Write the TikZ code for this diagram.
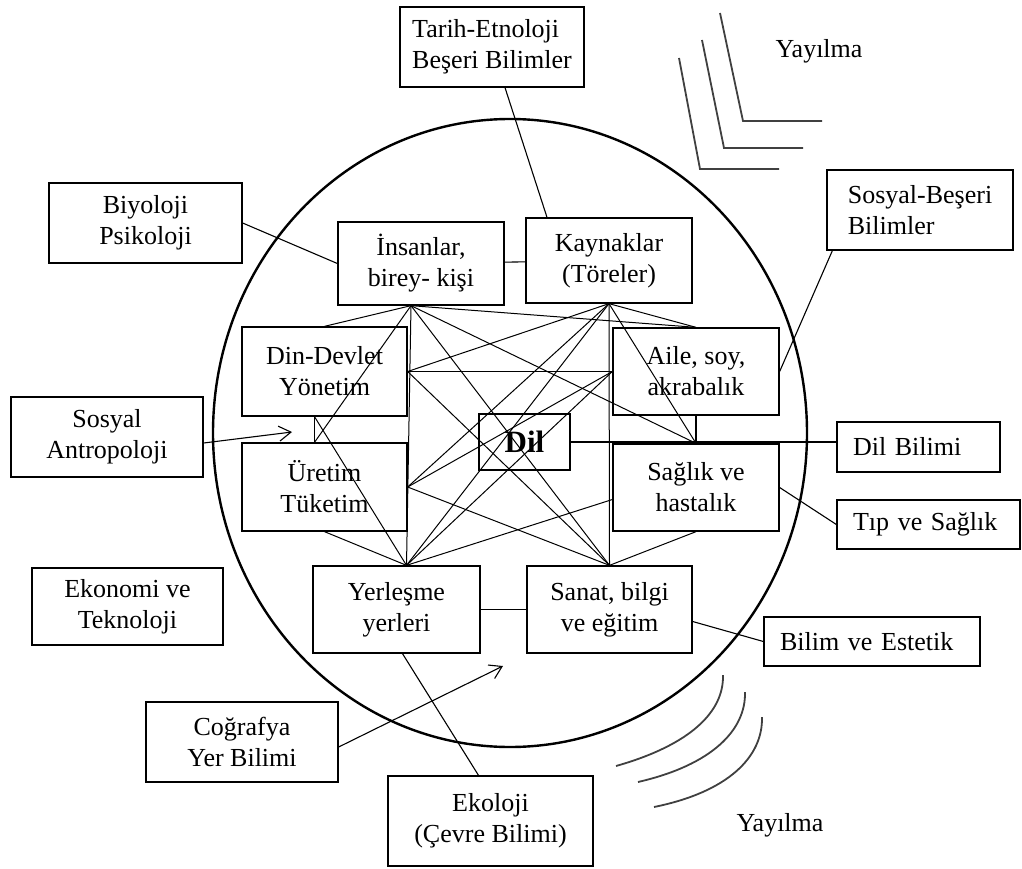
\documentclass[tikz,border=0pt]{standalone}
\usepackage{fontspec}
\setmainfont{Liberation Serif}
\usetikzlibrary{positioning,arrows.meta}

\begin{document}
\begin{tikzpicture}[x=1pt, y=-1pt,
    box/.style={rectangle, draw, line width=1.3pt, align=center, inner sep=2pt, font=\fontsize{26}{31}\selectfont},
    lbox/.style={box, align=left, inner xsep=16pt},
    hub/.style={line width=1pt},
    link/.style={line width=1.1pt},
    barb/.style={-{Straight Barb[length=12pt,width=15pt]}, line width=1.1pt},
    wave/.style={line width=1.8pt, black!75}]
    \useasboundingbox (0,0) rectangle (1022,869);
    \draw[line width=2.4pt] (510,433) ellipse [x radius=297, y radius=314];

    \node[box, align=left, minimum width=184pt, minimum height=80pt] (tarih) at (492,47) {Tarih-Etnoloji\\Beşeri Bilimler};
    \node[box, minimum width=193pt, minimum height=80pt] (biyo) at (145.5,223) {Biyoloji\\Psikoloji};
    \node[box, minimum width=166pt, minimum height=83pt] (insan) at (421,263.5) {İnsanlar,\\birey- kişi};
    \node[box, minimum width=166pt, minimum height=85pt] (kayn) at (609,260.5) {Kaynaklar\\(Töreler)};
    \node[box, align=left, minimum width=186pt, minimum height=80pt] (sosbes) at (920,210) {Sosyal-Beşeri\\Bilimler};
    \node[box, minimum width=165pt, minimum height=89pt] (din) at (324.5,371.5) {Din-Devlet\\Yönetim};
    \node[box, minimum width=166pt, minimum height=87pt] (aile) at (696,371.5) {Aile, soy,\\akrabalık};
    \node[box, minimum width=192pt, minimum height=80pt] (sosant) at (107,437) {Sosyal\\Antropoloji};
    \node[box, line width=2.4pt, minimum width=91pt, minimum height=56pt, font=\fontsize{31}{34}\selectfont\bfseries] (dil) at (524.5,442) {Dil};
    \node[lbox, text width=131pt, minimum height=50pt] (dilbil) at (918.5,447) {Dil Bilimi};
    \node[box, minimum width=165pt, minimum height=88pt] (uret) at (324.5,487) {Üretim\\Tüketim};
    \node[box, minimum width=166pt, minimum height=87pt] (saglik) at (696,487.5) {Sağlık ve\\hastalık};
    \node[lbox, text width=151pt, minimum height=49pt] (tip) at (928.5,524.5) {Tıp ve Sağlık};
    \node[box, minimum width=191pt, minimum height=77pt] (ekon) at (127.5,606.5) {Ekonomi ve\\Teknoloji};
    \node[box, minimum width=167pt, minimum height=87pt] (yerl) at (396.5,609.5) {Yerleşme\\yerleri};
    \node[box, minimum width=165pt, minimum height=87pt] (sanat) at (609.5,609.5) {Sanat, bilgi\\ve eğitim};
    \node[lbox, text width=184pt, minimum height=49pt] (bilim) at (872,641.5) {Bilim ve Estetik};
    \node[box, minimum width=192pt, minimum height=80pt] (cograf) at (242,742) {Coğrafya\\Yer Bilimi};
    \node[box, minimum width=205pt, minimum height=90pt] (ekol) at (490.5,821) {Ekoloji\\(Çevre Bilimi)};
    \node[font=\fontsize{26}{31}\selectfont] (yayTop) at (819,51) {Yayılma};
    \node[font=\fontsize{26}{31}\selectfont] (yayBot) at (780,825) {Yayılma};

    \coordinate (hA) at ([xshift=-10pt]insan.south);
    \coordinate (hB) at (kayn.south);
    \coordinate (hC) at ([xshift=10pt]yerl.north);
    \coordinate (hD) at (sanat.north);
    \coordinate (lTop) at ([xshift=-10pt]din.south);
    \coordinate (lBot) at ([xshift=-10pt]uret.north);
    \coordinate (sagL) at ([yshift=-12pt]saglik.west);
    \coordinate (antEnd) at (292,432);
    \coordinate (cogEnd) at (503,666);

    \draw[link] (lTop) -- (lBot);
    \draw[link] (aile.south) -- (saglik.north);
    \draw[link] (insan) -- (kayn);
    \draw[link] (yerl) -- (sanat);
    \draw[link] (dil.east) -- (dil.east -| dilbil.west);

    \draw[hub] (hA) -- (din.north);
    \draw[hub] (hA) -- (aile.north);
    \draw[hub] (hA) -- (hC);
    \draw[hub] (hA) -- (hD);
    \draw[hub] (hA) -- (lBot);
    \draw[hub] (hA) -- (saglik.north);
    \draw[hub] (hB) -- (aile.north);
    \draw[hub] (hB) -- (hD);
    \draw[hub] (hB) -- (hC);
    \draw[hub] (hB) -- (din.east);
    \draw[hub] (hB) -- (uret.east);
    \draw[hub] (hB) -- (saglik.north);
    \draw[hub] (din.east) -- (aile.west);
    \draw[hub] (din.east) -- (hD);
    \draw[hub] (aile.west) -- (hC);
    \draw[hub] (aile.west) -- (uret.east);
    \draw[hub] (uret.east) -- (hD);
    \draw[hub] (sagL) -- (hC);
    \draw[hub] (lTop) -- (hC);
    \draw[hub] (uret.south) -- (hC);
    \draw[hub] (saglik.south) -- (hD);

    \draw[link] ([xshift=13pt]tarih.south) -- ([xshift=-62pt]kayn.north);
    \draw[link] (biyo.east) -- (insan.west);
    \draw[link] ([xshift=6pt]sosbes.south west) -- (aile.east);
    \draw[link] (saglik.east) -- (tip.west);
    \draw[link] ([yshift=-12pt]sanat.east) -- (bilim.west);
    \draw[link] ([xshift=6pt]yerl.south) -- ([xshift=-12pt]ekol.north);
    \draw[barb] ([yshift=-6pt]sosant.east) -- (antEnd);
    \draw[barb] ([yshift=-5pt]cograf.east) -- (cogEnd);

    \draw[wave] (720,13) -- (743,121) -- (822,121);
    \draw[wave] (702,40) -- (724,148) -- (803,148);
    \draw[wave] (679,58) -- (700,169) -- (779,169);
    \draw[wave] (723,675) .. controls (724,712) and (690,745) .. (616,766);
    \draw[wave] (745,692) .. controls (746,730) and (712,765) .. (638,782);
    \draw[wave] (762,717) .. controls (763,757) and (728,792) .. (654,807);
\end{tikzpicture}
\end{document}
